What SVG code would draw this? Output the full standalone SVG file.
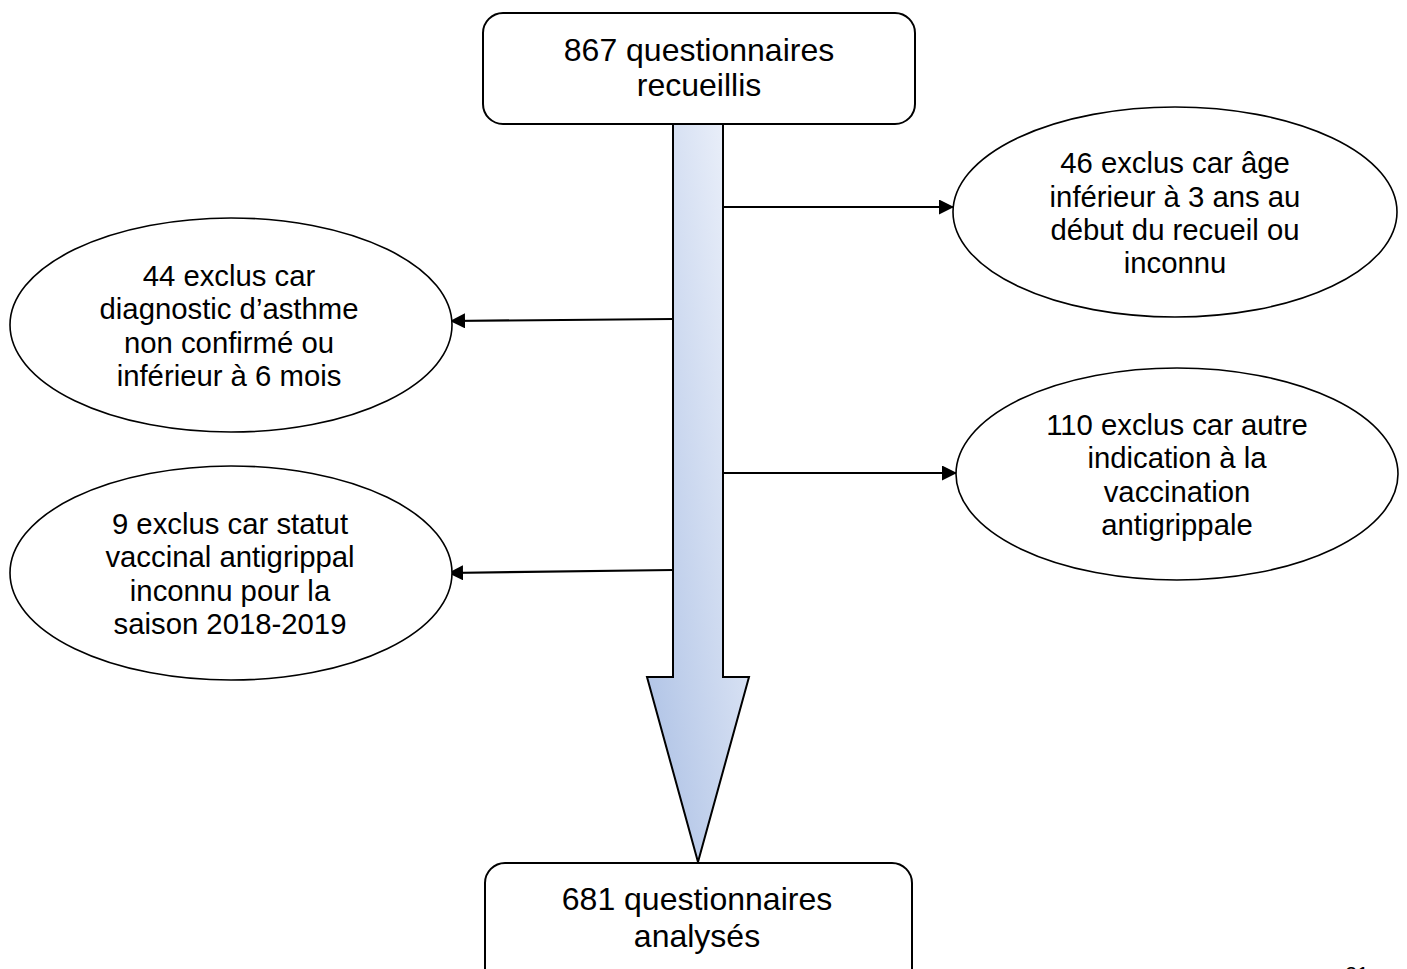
<svg xmlns="http://www.w3.org/2000/svg" width="1407" height="969" viewBox="0 0 1407 969">
<style>
.box{fill:#fff;stroke:#000;stroke-width:2}
.oval{fill:#fff;stroke:#000;stroke-width:1.6}
.t{font-family:"Liberation Sans",Arial,sans-serif;fill:#000;text-anchor:middle}
.tb{font-size:32px}
.te{font-size:29.3px}
.conn{stroke:#000;stroke-width:2.2;fill:none;marker-end:url(#ah)}
</style>
<defs>
<linearGradient id="g" x1="1" y1="0" x2="0" y2="1">
<stop offset="0" stop-color="#f2f5fc"/>
<stop offset="1" stop-color="#aabfe4"/>
</linearGradient>
<marker id="ah" markerUnits="userSpaceOnUse" markerWidth="16" markerHeight="16" refX="15" refY="7.5" orient="auto">
<path d="M0,0 L15,7.5 L0,15 Z" fill="#000"/>
</marker>
</defs>
<g id="big-arrow">
<path d="M673,124 L723,124 L723,677 L749,677 L698,862 L647,677 L673,677 Z" fill="url(#g)" stroke="#000" stroke-width="2" stroke-linejoin="miter"/>
</g>
<g id="connectors">
<line class="conn" x1="723" y1="207" x2="954" y2="207"/>
<line class="conn" x1="673" y1="319" x2="450" y2="321"/>
<line class="conn" x1="723" y1="473" x2="957" y2="473"/>
<line class="conn" x1="673" y1="570" x2="448" y2="573"/>
</g>
<g id="top-box">
<rect class="box" x="483" y="13" width="432" height="111" rx="20"/>
<text class="t tb" x="699" y="61">867 questionnaires</text>
<text class="t tb" x="699" y="96">recueillis</text>
</g>
<g id="bottom-box">
<rect class="box" x="485" y="863" width="427" height="130" rx="20"/>
<text class="t tb" x="697" y="910">681 questionnaires</text>
<text class="t tb" x="697" y="947">analysés</text>
</g>
<g id="excl-age">
<ellipse class="oval" cx="1175" cy="212" rx="222" ry="105"/>
<text class="t te" x="1175" y="173">46 exclus car âge</text>
<text class="t te" x="1175" y="207">inférieur à 3 ans au</text>
<text class="t te" x="1175" y="240">début du recueil ou</text>
<text class="t te" x="1175" y="273">inconnu</text>
</g>
<g id="excl-asthme">
<ellipse class="oval" cx="231" cy="325" rx="221" ry="107"/>
<text class="t te" x="229" y="286">44 exclus car</text>
<text class="t te" x="229" y="319">diagnostic d’asthme</text>
<text class="t te" x="229" y="353">non confirmé ou</text>
<text class="t te" x="229" y="386">inférieur à 6 mois</text>
</g>
<g id="excl-indication">
<ellipse class="oval" cx="1177" cy="474" rx="221" ry="106"/>
<text class="t te" x="1177" y="435">110 exclus car autre</text>
<text class="t te" x="1177" y="468">indication à la</text>
<text class="t te" x="1177" y="502">vaccination</text>
<text class="t te" x="1177" y="535">antigrippale</text>
</g>
<g id="excl-statut">
<ellipse class="oval" cx="231" cy="573" rx="221" ry="107"/>
<text class="t te" x="230" y="534">9 exclus car statut</text>
<text class="t te" x="230" y="567">vaccinal antigrippal</text>
<text class="t te" x="230" y="601">inconnu pour la</text>
<text class="t te" x="230" y="634">saison 2018-2019</text>
</g>
<text class="t" x="1357" y="981" font-size="21">21</text>
</svg>
